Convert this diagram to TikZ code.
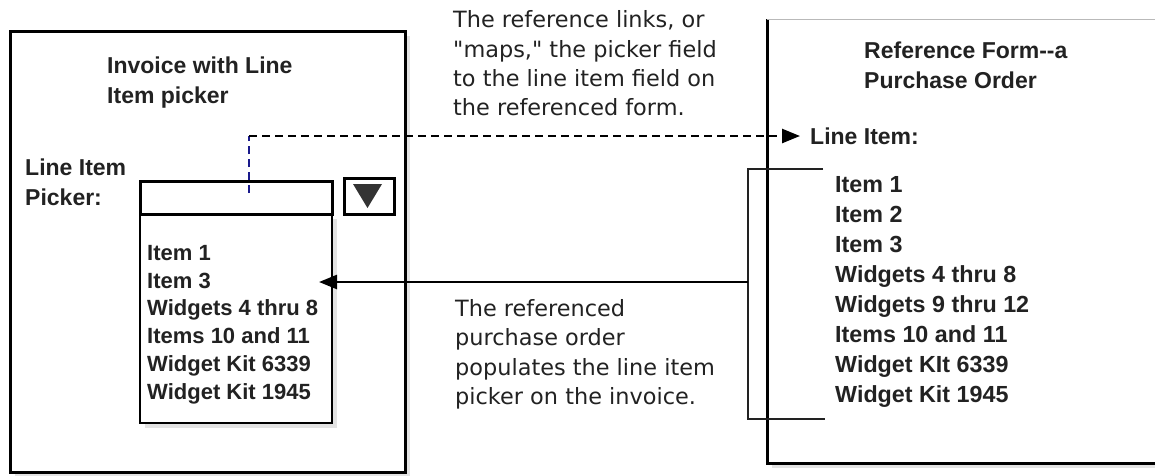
\documentclass[tikz,border=0pt]{standalone}
\usepackage{fontspec}
\setmainfont{Liberation Sans}
\newfontfamily\notefont{DejaVu Sans}
\usetikzlibrary{positioning, arrows.meta, shadows}

\definecolor{inkgray}{HTML}{222222}
\definecolor{tapblue}{HTML}{1A1A8C}
\definecolor{knobgray}{HTML}{333333}

\begin{document}
\begin{tikzpicture}[
    x=1pt, y=-1pt,
    >={Triangle[length=18pt, width=14pt]},
    softshadow/.style={
        drop shadow={shadow xshift=5pt, shadow yshift=-5pt, opacity=0.22}
    },
    title/.style={
        anchor=north west,
        inner sep=0pt,
        align=left,
        text=inkgray,
        font=\fontsize{23}{30}\selectfont\bfseries
    },
    pickitems/.style={
        title,
        font=\fontsize{22}{27.8}\selectfont\bfseries
    },
    poitems/.style={
        title,
        font=\fontsize{23.3}{30}\selectfont\bfseries
    },
    note/.style={
        anchor=north west,
        inner sep=0pt,
        align=left,
        text=inkgray,
        font=\fontsize{22.4}{29.4}\selectfont\notefont
    },
    fieldbox/.style={
        draw,
        line width=3pt,
        anchor=north west,
        inner sep=0pt
    },
    mapline/.style={
        line width=2.5pt,
        dash pattern=on 8pt off 5pt
    }
]

\useasboundingbox (0,0) rectangle (1155,475);
\clip (0,0) rectangle (1155,475);

% frames
\fill[white, softshadow] (10,31) rectangle (405,472);
\draw[line width=3pt] (10,31) rectangle (405,472);
\fill[white, softshadow] (767,19) rectangle (1175,463);
\draw[line width=3pt] (767,19) -- (767,463) -- (1175,463);
\draw[gray!55, line width=1pt] (767,19) -- (1175,19);

% invoice side
\node[title] (invtitle) at (107,57) {Invoice with Line\\Item picker};
\node[title] (pickerlabel) at (25,159) {Line Item\\Picker:};
\node[fieldbox, fill=white, softshadow, line width=2pt,
      minimum width=192pt, minimum height=209pt] (droplist) at (139,213) {};
\node[fieldbox, fill=white, minimum width=192pt, minimum height=33pt] (field) at (139,180) {};
\node[fieldbox, minimum width=50pt, minimum height=36pt] (button) at (343,177) {};
\fill[knobgray] (353,184) -- (382,184) -- (367.5,208) -- cycle;
\node[pickitems] (pickitems) at (147,245) {Item 1\\Item 3\\Widgets 4 thru 8\\Items 10 and 11\\Widget Kit 6339\\Widget Kit 1945};

% purchase order side
\node[title] (potitle) at (864,42) {Reference Form-{}-a\\Purchase Order};
\node[title, anchor=west, inner xsep=10pt] (lineitem) at (800,136) {Line Item:};
\node[poitems] (poitems) at (835,176.5) {Item 1\\Item 2\\Item 3\\Widgets 4 thru 8\\Widgets 9 thru 12\\Items 10 and 11\\Widget KIt 6339\\Widget Kit 1945};

% notes
\node[note] (linknote) at (453,10.5) {The reference links, or\\"maps," the picker field\\to the line item field on\\the referenced form.};
\node[note] (popnote) at (455,299) {The referenced\\purchase order\\populates the line item\\picker on the invoice.};

% connectors
\coordinate (tap) at (249,193);
\coordinate (corner) at (249,136);
\coordinate (brtop) at (823,169);
\coordinate (brbot) at (748,419);
\coordinate (brend) at (825,419);
\coordinate (brmid) at (748,282);
\coordinate (listin) at (319,282);

\draw[mapline, tapblue] (tap) -- (corner);
\draw[mapline, ->] (corner) -- (lineitem.west);
\draw[line width=2pt, inkgray] (brtop) -| (brbot) -- (brend);
\draw[line width=2.5pt, ->] (brmid) -- (listin);

\end{tikzpicture}
\end{document}
